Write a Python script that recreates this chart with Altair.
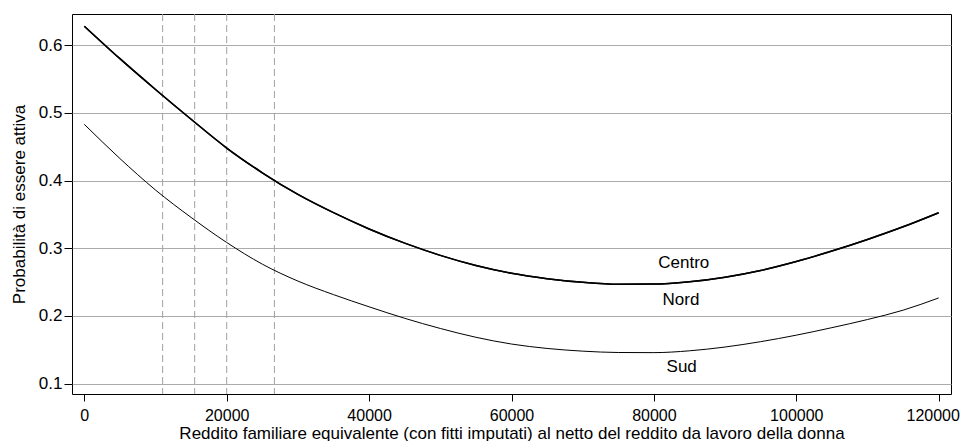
import altair as alt
import pandas as pd

# Data
reddito = [0, 5000, 10000, 15000, 20000, 25000, 30000, 35000, 40000, 45000,
           50000, 55000, 60000, 65000, 70000, 75000, 80000, 85000, 90000,
           95000, 100000, 105000, 110000, 115000, 120000]
centro = [0.628, 0.580, 0.5345, 0.4905, 0.448, 0.4115, 0.3795, 0.3525, 0.3285, 0.3075,
          0.2895, 0.2745, 0.2630, 0.2551, 0.2497, 0.2468, 0.2470, 0.2505, 0.2573,
          0.2672, 0.2804, 0.2959, 0.313, 0.3317, 0.3525]
nord = [0.628, 0.580, 0.5345, 0.4905, 0.448, 0.4115, 0.3795, 0.3525, 0.3285, 0.3075,
        0.2895, 0.2745, 0.2630, 0.2551, 0.2497, 0.2468, 0.2470, 0.2505, 0.2573,
        0.2672, 0.2804, 0.2959, 0.313, 0.3317, 0.3525]
sud = [0.483, 0.4325, 0.386, 0.3455, 0.3085, 0.2765, 0.2515, 0.2315, 0.2135, 0.1965,
       0.1815, 0.1685, 0.1585, 0.1520, 0.1480, 0.1460, 0.1458, 0.1485, 0.1541,
       0.1620, 0.1716, 0.1827, 0.1947, 0.2085, 0.2266]
soglie = [11000, 15500, 20000, 26700]
etichette = ["Centro", "Nord", "Sud"]
etichette_x = [84200, 83800, 83900]
etichette_y = [0.2775, 0.2234, 0.1241]
x_ticks = [0, 20000, 40000, 60000, 80000, 100000, 120000]
y_ticks = [0.1, 0.2, 0.3, 0.4, 0.5, 0.6]

FONT = "Liberation Sans"
FS = 17

lines_df = pd.DataFrame({
    "x": reddito * 3,
    "y": centro + nord + sud,
    "serie": ["Centro"] * len(reddito) + ["Nord"] * len(reddito) + ["Sud"] * len(reddito),
})
rules_df = pd.DataFrame({"x": soglie})
text_df = pd.DataFrame({"x": etichette_x, "y": etichette_y, "t": etichette})

xscale = alt.Scale(domain=[-1730, 121730], nice=False, zero=False)
yscale = alt.Scale(domain=[0.0847, 0.646], nice=False, zero=False)

xaxis = alt.Axis(values=x_ticks, format="d", grid=False, domain=False,
                 tickColor="black", tickSize=7, labelPadding=6,
                 labelFont=FONT, labelFontSize=16, labelColor="black",
                 labelOffset={"condition": {"test": "datum.value >= 120000", "value": -6}, "value": 0},
                 title="Reddito familiare equivalente (con fitti imputati) al netto del reddito da lavoro della donna",
                 titleFont=FONT, titleFontSize=FS, titleFontWeight="normal",
                 titleColor="black", titlePadding=2)
yaxis = alt.Axis(values=y_ticks, format=".1f", grid=True, gridColor="#ababab",
                 gridWidth=1, domain=False, tickColor="black", tickSize=8,
                 labelPadding=2, labelFont=FONT, labelFontSize=FS,
                 labelColor="black",
                 title="Probabilità di essere attiva", titleFont=FONT,
                 titleFontSize=FS, titleFontWeight="normal", titleColor="black",
                 titlePadding=10)

base_axes = alt.Chart(lines_df).mark_line(opacity=0).encode(
    x=alt.X("x:Q", scale=xscale, axis=xaxis),
    y=alt.Y("y:Q", scale=yscale, axis=yaxis),
)

rules = alt.Chart(rules_df).mark_rule(
    color="#a0a0a0", strokeWidth=1, strokeDash=[7, 4]
).encode(x=alt.X("x:Q", scale=xscale))

upper = alt.Chart(lines_df).transform_filter(
    alt.datum.serie != "Sud"
).mark_line(color="black", strokeWidth=1.5, interpolate="monotone").encode(
    x=alt.X("x:Q", scale=xscale),
    y=alt.Y("y:Q", scale=yscale),
    detail="serie:N",
)

lower = alt.Chart(lines_df).transform_filter(
    alt.datum.serie == "Sud"
).mark_line(color="black", strokeWidth=1, interpolate="monotone").encode(
    x=alt.X("x:Q", scale=xscale),
    y=alt.Y("y:Q", scale=yscale),
)

labels = alt.Chart(text_df).mark_text(
    font=FONT, fontSize=FS, color="black", align="center", baseline="middle"
).encode(
    x=alt.X("x:Q", scale=xscale),
    y=alt.Y("y:Q", scale=yscale),
    text="t:N",
)

chart = alt.layer(base_axes, rules, upper, lower, labels).properties(
    width=879, height=380,
    autosize=alt.AutoSizeParams(type="none"),
    padding={"left": 64, "top": 6, "right": 9, "bottom": 47},
).configure_view(stroke="black", strokeWidth=1)

chart.save("out.html", embed_options={"renderer": "svg", "actions": False})
